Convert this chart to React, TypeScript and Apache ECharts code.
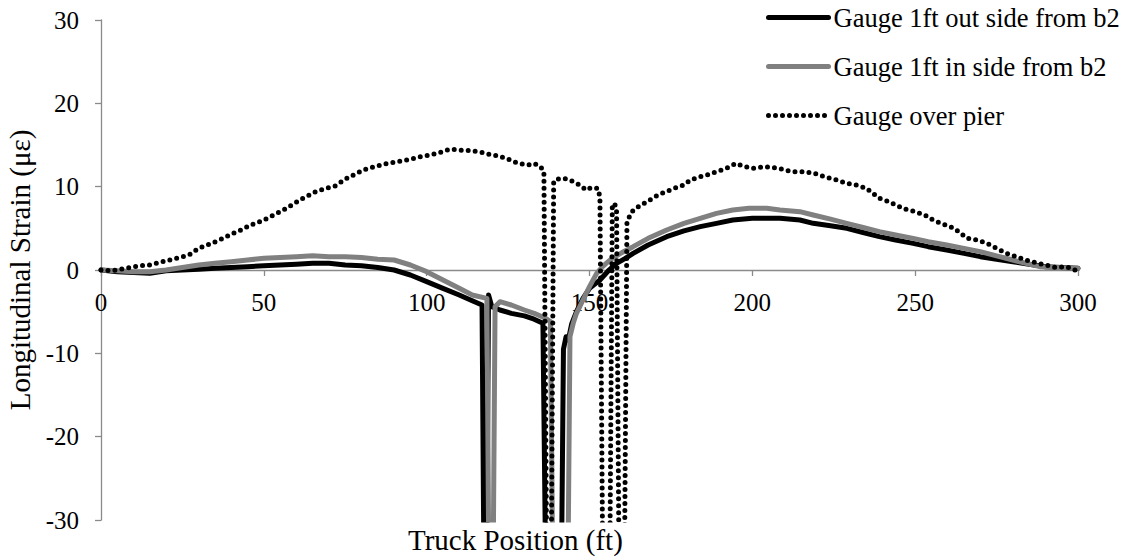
import React, { useEffect, useRef } from "react";
import * as echarts from "echarts";

// Gauge 1ft out side from b2 (black)
const outX = [0, 5, 10, 15, 20, 25, 30, 35, 40, 45, 50, 55, 60, 65, 70, 75, 80, 85, 90, 95, 100, 105, 110, 114, 117, 117.5, 118.5, 119, 120, 122.5, 126, 130, 133, 135.7, 136.4, 141.5, 142, 142.8, 143.5, 144.5, 146, 148, 150, 153.2, 156, 158.3, 161, 163.4, 168, 173.7, 179, 184, 189, 194, 200, 204.4, 208.5, 214.6, 218.7, 224, 229, 234, 239, 244, 249.4, 254, 259.7, 265, 270, 275, 280, 285, 290, 295, 300];
const outY = [0, -0.2, -0.3, -0.4, -0.1, 0, 0.1, 0.2, 0.3, 0.4, 0.5, 0.6, 0.7, 0.8, 0.8, 0.6, 0.5, 0.3, 0.0, -0.6, -1.4, -2.2, -3.0, -3.7, -4.2, -31, -31, -3.0, -4.4, -4.8, -5.2, -5.5, -5.9, -6.4, -31, -31, -9.5, -8.0, -8.4, -6.5, -5.0, -3.4, -2.2, -1.2, 0, 0.8, 1.4, 2.0, 3.0, 4.0, 4.7, 5.2, 5.6, 6.0, 6.2, 6.2, 6.2, 6.0, 5.6, 5.3, 5.0, 4.5, 4.0, 3.6, 3.2, 2.8, 2.4, 2.0, 1.6, 1.3, 1.0, 0.7, 0.4, 0.3, 0.2];

// Gauge 1ft in side from b2 (gray)
const inX = [0, 5, 10, 15, 20, 25, 30, 35, 40, 45, 50, 55, 60, 65, 70, 75, 80, 85, 90, 95, 100, 105, 110, 114, 118.5, 119, 120.5, 121, 122.5, 126, 130, 133, 136.5, 138, 138.6, 143.5, 144, 145, 146, 148, 150, 152.2, 154, 156.3, 160, 163.4, 168, 173.7, 179, 184, 189, 194, 199, 204.4, 208.5, 214.6, 218.7, 224, 229, 234, 239, 244, 249.4, 254, 259.7, 265, 270, 275, 280, 285, 288.3, 293, 298.5, 300];
const inY = [0, -0.1, -0.2, -0.2, 0.0, 0.3, 0.6, 0.8, 1.0, 1.2, 1.4, 1.5, 1.6, 1.7, 1.6, 1.6, 1.5, 1.3, 1.2, 0.6, -0.2, -1.2, -2.2, -3.0, -3.4, -31, -31, -4.4, -3.8, -4.2, -4.8, -5.2, -5.8, -6.2, -31, -31, -8.0, -6.4, -5.2, -3.6, -2.0, -0.4, 0.4, 1.2, 2.1, 2.8, 3.8, 4.8, 5.6, 6.2, 6.8, 7.2, 7.4, 7.4, 7.2, 7.0, 6.6, 6.1, 5.6, 5.1, 4.6, 4.2, 3.8, 3.4, 3.0, 2.6, 2.2, 1.7, 1.2, 0.7, 0.4, 0.3, 0.2, 0.2];

// Gauge over pier (dotted)
const pierX = [0, 3, 6, 9, 12, 15, 19, 23, 27, 30, 34, 37.5, 40, 43, 46, 50, 53, 56, 59, 61, 64, 66, 69, 72, 75, 78, 80.5, 84, 88, 91, 95, 98, 101, 104, 107, 110, 114, 117, 120, 122, 125, 128, 131, 133, 135, 136, 136.8, 138.3, 139, 140, 142, 144, 146, 147, 149, 150.5, 152.5, 153.2, 154, 156.3, 157, 157.6, 158.3, 159, 160.8, 161.5, 163, 165, 168.5, 171, 173.5, 176, 179, 181, 184, 186, 189, 192, 195, 197, 200, 204, 208, 212, 216, 219, 222, 226, 229, 232, 235, 237, 239, 242, 244, 247, 250, 253, 255.5, 258, 262, 264, 266, 269, 272, 275, 278, 281, 284, 287, 290, 293, 296, 298, 300];
const pierY = [0, -0.1, 0.1, 0.3, 0.5, 0.6, 1.0, 1.4, 1.8, 2.6, 3.2, 3.8, 4.3, 4.8, 5.4, 6.0, 6.6, 7.2, 7.9, 8.4, 9.0, 9.4, 9.8, 10.1, 10.9, 11.5, 12.0, 12.4, 12.8, 13.0, 13.3, 13.6, 13.8, 14.1, 14.5, 14.4, 14.3, 14.1, 13.8, 13.7, 13.3, 12.8, 12.6, 12.8, 12.4, 11.8, -32, -32, 10.6, 10.9, 11.0, 10.8, 10.4, 10.2, 9.6, 9.9, 9.8, 8.8, -32, -32, 7.6, 8.0, 7.4, -32, -32, 5.8, 7.0, 7.6, 8.4, 9.0, 9.4, 9.8, 10.2, 10.8, 11.2, 11.4, 11.8, 12.2, 12.8, 12.5, 12.2, 12.4, 12.2, 11.8, 11.8, 11.6, 11.2, 10.8, 10.4, 10.2, 9.8, 9.2, 8.6, 8.2, 7.8, 7.3, 7.0, 6.6, 6.0, 5.6, 5.0, 4.4, 3.8, 3.6, 3.2, 2.6, 2.0, 1.6, 1.2, 0.9, 0.6, 0.3, 0.4, 0.2, -0.2];

const seriesNames = ["Gauge 1ft out side from b2", "Gauge 1ft in side from b2", "Gauge over pier"];
const xTitle = "Truck Position (ft)";
const yTitle = "Longitudinal Strain (με)";

const zip = (xs: number[], ys: number[]) => xs.map((x, i) => [x, ys[i]]);

const FONT = "Liberation Serif";
const FS = 25;
const TITLE_FS = 29;
const AXIS_COLOR = "#8a8a8a";

export default function App() {
  const ref = useRef<HTMLDivElement>(null);
  useEffect(() => {
    if (!ref.current) return;
    const chart = echarts.init(ref.current, null, { renderer: "svg" });
    chart.setOption({
      animation: false,
      backgroundColor: "#ffffff",
      textStyle: { fontFamily: FONT, color: "#000" },
      grid: { left: 101, right: 54, top: 20, bottom: 37, containLabel: false, outerBoundsMode: "none" },
      legend: {
        orient: "vertical",
        left: 766,
        top: 4,
        padding: 0,
        itemWidth: 60,
        itemHeight: 26,
        itemGap: 22,
        itemStyle: { opacity: 0 },
        lineStyle: { width: 5 },
        textStyle: { fontFamily: FONT, fontSize: 26.5, color: "#000" },
        data: seriesNames,
      },
      graphic: [
        {
          type: "text",
          left: 408,
          top: 525,
          style: { text: xTitle, fontFamily: FONT, fontSize: TITLE_FS, fill: "#000" },
        },
      ],
      xAxis: {
        type: "value",
        min: 0,
        max: 300,
        interval: 50,
        position: "bottom",
        offset: -250,
        axisLine: { onZero: false, lineStyle: { color: AXIS_COLOR, width: 1.3 } },
        axisTick: { show: true, inside: false, length: 6, lineStyle: { color: AXIS_COLOR, width: 1.3 } },
        axisLabel: { fontFamily: FONT, fontSize: FS, color: "#000", margin: 20 },
        splitLine: { show: false },
      },
      yAxis: {
        type: "value",
        min: -30,
        max: 30,
        interval: 10,
        name: yTitle,
        nameLocation: "middle",
        nameGap: 64,
        nameTextStyle: { fontFamily: FONT, fontSize: TITLE_FS, color: "#000" },
        axisLine: { show: true, onZero: false, lineStyle: { color: AXIS_COLOR, width: 1.3 } },
        axisTick: { show: true, inside: false, length: 6, lineStyle: { color: AXIS_COLOR, width: 1.3 } },
        axisLabel: { fontFamily: FONT, fontSize: FS, color: "#000", margin: 22 },
        splitLine: { show: false },
      },
      series: [
        {
          name: seriesNames[0],
          type: "line",
          data: zip(outX, outY),
          symbol: "none",
          clip: true,
          lineStyle: { color: "#000000", width: 5, join: "round", cap: "round" },
          itemStyle: { color: "#000000" },
        },
        {
          name: seriesNames[1],
          type: "line",
          data: zip(inX, inY),
          symbol: "none",
          clip: true,
          lineStyle: { color: "#808080", width: 5, join: "round", cap: "round" },
          itemStyle: { color: "#808080" },
        },
        {
          name: seriesNames[2],
          type: "line",
          data: zip(pierX, pierY),
          symbol: "none",
          clip: true,
          lineStyle: { color: "#000000", width: 5, type: [0, 7], cap: "round", join: "round" },
          itemStyle: { color: "#000000" },
        },
      ],
    });
    return () => chart.dispose();
  }, []);
  return <div ref={ref} style={{ width: 1132, height: 557, position: "absolute", left: 0, top: 0 }} />;
}
